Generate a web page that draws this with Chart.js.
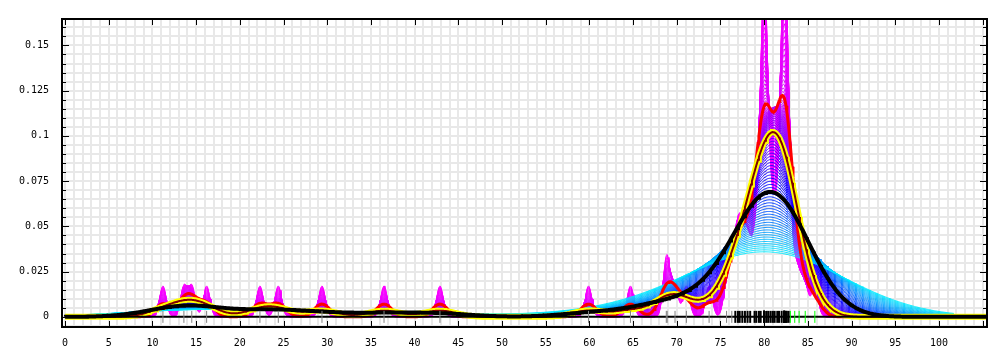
<!DOCTYPE html>
<html>
<head>
<meta charset="utf-8">
<script src="https://cdn.jsdelivr.net/npm/chart.js@4.4.0/dist/chart.umd.min.js"></script>
<style>
  html, body { margin: 0; padding: 0; background: #fff; }
</style>
</head>
<body>
<canvas id="chart" width="1000" height="350"></canvas>
<script>
// sample positions
let rugGray = [11.2, 13.6, 14.5, 16.2, 22.3, 24.4, 29.4, 36.5, 42.9,
    59.9, 64.7, 68.8, 68.9, 69.8, 71.1, 73.7, 75.7, 76.3];
let rugBlack = [76.7, 77.0, 77.2, 77.5, 77.8, 78.1, 78.4, 78.9, 79.1, 79.4, 79.6,
    80.0, 80.0, 80.0, 80.0, 80.0, 80.0, 80.0, 80.0, 80.0,
    80.3, 80.5, 80.75, 81.0, 81.2, 81.5, 81.7, 82.0,
    82.3, 82.3, 82.3, 82.3, 82.3, 82.3, 82.3, 82.3, 82.3,
    82.5, 82.6, 82.8];
let rugGreen = [83.0, 83.5, 84.0, 84.7, 85.8];

// bandwidths of the estimates
let fanBandwidths = [0.37, 8.5];   // first and last of the thin fan
let fanCount = 90;
let redBandwidth = 0.9;
let yellowBandwidth = 1.85;
let blackBandwidth = 3.7;

// fan colours, from the narrowest to the widest estimate
let fanColorStops = [0, 0.28, 0.52, 0.7, 0.85, 1];
let fanColors = [[255, 0, 255], [215, 0, 255], [110, 0, 255], [0, 0, 255], [0, 120, 255], [0, 235, 255]];

// axes
let xRange = [-0.35, 105.5];
let yRange = [-0.0056, 0.1646];
let xTickValues = [0, 5, 10, 15, 20, 25, 30, 35, 40, 45, 50, 55, 60, 65, 70, 75, 80, 85, 90, 95, 100];
let xTickLabels = ['0', '5', '10', '15', '20', '25', '30', '35', '40', '45', '50', '55', '60', '65', '70', '75', '80', '85', '90', '95', '100'];
let yTickValues = [0, 0.025, 0.05, 0.075, 0.1, 0.125, 0.15];
let yTickLabels = ['0', '0.025', '0.05', '0.075', '0.1', '0.125', '0.15'];

let samples = rugGray.concat(rugBlack, rugGreen);
let step = 0.1;

function density(x, h) {
    let sum = 0;
    for (let i = 0; i < samples.length; i++) {
        let u = (x - samples[i]) / h;
        sum += Math.exp(-0.5 * u * u);
    }
    return sum / (samples.length * h * Math.sqrt(2 * Math.PI));
}

function curve(h, from, to) {
    let points = [];
    let n = Math.round((to - from) / step);
    for (let i = 0; i <= n; i++) {
        let x = from + i * step;
        points.push({x: x, y: density(x, h)});
    }
    return points;
}

function fanColor(t) {
    let k = 0;
    while (k < fanColorStops.length - 2 && t > fanColorStops[k + 1]) k++;
    let f = (t - fanColorStops[k]) / (fanColorStops[k + 1] - fanColorStops[k]);
    let c = fanColors[k].map((v, j) => Math.round(v + (fanColors[k + 1][j] - v) * f));
    return `rgb(${c[0]},${c[1]},${c[2]})`;
}

function rugPoints(list) {
    return list.map(v => ({x: v, y: 0}));
}

let datasets = [];

datasets.push({data: rugPoints(rugGray), showLine: false, pointStyle: 'line', rotation: 90, pointRadius: 6,
    pointBorderColor: '#808080', pointBorderWidth: 1, order: 0});
datasets.push({data: rugPoints(rugBlack), showLine: false, pointStyle: 'line', rotation: 90, pointRadius: 6,
    pointBorderColor: '#000000', pointBorderWidth: 2, order: 0});
datasets.push({data: rugPoints(rugGreen), showLine: false, pointStyle: 'line', rotation: 90, pointRadius: 6,
    pointBorderColor: '#00ff00', pointBorderWidth: 1, order: 0});
datasets.push({data: [{x: 0, y: 0}, {x: 105.5, y: 0}], borderColor: '#000', borderWidth: 2, order: 1});

datasets.push({data: curve(blackBandwidth, 0, 105.5), borderColor: '#000', borderWidth: 4, order: 2});
datasets.push({data: curve(yellowBandwidth, 0, 105.5), borderColor: '#800000', borderWidth: 2, order: 3});
datasets.push({data: curve(yellowBandwidth, 0, 105.5), borderColor: '#ffff00', borderWidth: 6, order: 4});
datasets.push({data: curve(redBandwidth, 0, 105.5), borderColor: '#ff0000', borderWidth: 3, order: 5});

let ratio = Math.pow(fanBandwidths[1] / fanBandwidths[0], 1 / (fanCount - 1));
for (let i = 0; i < fanCount; i++) {
    let h = fanBandwidths[0] * Math.pow(ratio, i);
    datasets.push({
        data: curve(h, 0, 101.7),
        borderColor: fanColor(i / (fanCount - 1)),
        borderWidth: 1,
        order: 6 + (fanCount - i)
    });
}

datasets.forEach(d => { d.clip = 0; if (d.pointRadius === undefined) d.pointRadius = 0; });

const framePlugin = {
    id: 'frame',
    afterDraw(chart) {
        let ctx = chart.ctx;
        let a = chart.chartArea;
        let xs = chart.scales.x, ys = chart.scales.y;
        ctx.save();
        ctx.strokeStyle = '#000';
        ctx.lineWidth = 1;
        ctx.beginPath();
        xTickValues.concat([105]).forEach(v => {
            let p = Math.round(xs.getPixelForValue(v)) + 0.5;
            ctx.moveTo(p, a.bottom); ctx.lineTo(p, a.bottom - 6);
            ctx.moveTo(p, a.top); ctx.lineTo(p, a.top + 6);
        });
        for (let k = 0; k <= 32; k++) {
            let v = k * 0.005;
            let major = k % 5 === 0;
            let len = major ? 7 : 4;
            let p = Math.round(ys.getPixelForValue(v)) + 0.5;
            ctx.moveTo(a.left, p); ctx.lineTo(a.left + len, p);
            ctx.moveTo(a.right, p); ctx.lineTo(a.right - len, p);
        }
        ctx.stroke();
        ctx.lineWidth = 2;
        ctx.strokeRect(a.left, a.top, a.right - a.left, a.bottom - a.top);
        ctx.restore();
    }
};

new Chart(document.getElementById('chart'), {
    type: 'line',
    data: {datasets: datasets},
    options: {
        responsive: false,
        animation: false,
        parsing: false,
        normalized: true,
        events: [],
        elements: {line: {tension: 0, borderCapStyle: 'butt'}},
        layout: {padding: {top: 3, right: 13, left: 0, bottom: 0}},
        plugins: {legend: {display: false}, tooltip: {enabled: false}},
        scales: {
            x: {
                type: 'linear',
                min: xRange[0],
                max: xRange[1],
                afterBuildTicks: (scale) => {
                    let t = [];
                    for (let v = 0; v <= 105; v++) t.push({value: v});
                    scale.ticks = t;
                },
                afterFit: (scale) => { scale.height = 23; },
                grid: {color: '#e8e8e8', lineWidth: 2, drawTicks: false},
                border: {display: false},
                ticks: {
                    autoSkip: false,
                    maxRotation: 0,
                    padding: 10,
                    color: '#000',
                    font: {family: 'DejaVu Sans Mono', size: 10},
                    callback: (v) => {
                        let i = xTickValues.indexOf(v);
                        return i >= 0 ? xTickLabels[i] : '';
                    }
                }
            },
            y: {
                type: 'linear',
                min: yRange[0],
                max: yRange[1],
                afterBuildTicks: (scale) => {
                    let t = [];
                    for (let k = -1; k <= 32; k++) t.push({value: k * 0.005});
                    scale.ticks = t;
                },
                afterFit: (scale) => { scale.width = 62; },
                grid: {color: '#e8e8e8', lineWidth: 2, drawTicks: false},
                border: {display: false},
                ticks: {
                    autoSkip: false,
                    padding: 13,
                    color: '#000',
                    font: {family: 'DejaVu Sans Mono', size: 10},
                    callback: (v) => {
                        let i = yTickValues.findIndex(y => Math.abs(y - v) < 1e-9);
                        return i >= 0 ? yTickLabels[i] : '';
                    }
                }
            }
        }
    },
    plugins: [framePlugin]
});
</script>
</body>
</html>
